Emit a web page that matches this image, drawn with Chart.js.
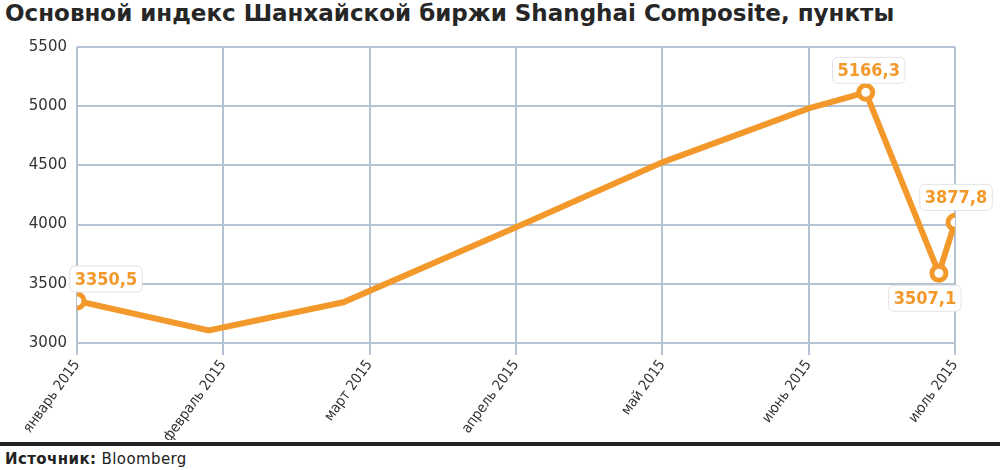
<!DOCTYPE html>
<html>
<head>
<meta charset="utf-8">
<script src="https://cdn.jsdelivr.net/npm/chart.js@4/dist/chart.umd.min.js"></script>
<style>
    body { margin: 0; width: 1000px; height: 470px; background: #fff; position: relative; overflow: hidden; }
    #title { position: absolute; left: 5px; top: 0px; font-family: "DejaVu Sans"; font-weight: bold; font-size: 23px; color: #262626; white-space: nowrap; }
    #chartBox { position: absolute; left: 0; top: 0; width: 1000px; height: 440px; }
    #rule { position: absolute; left: 0; top: 442px; width: 1000px; height: 4px; background: #222; }
    #source { position: absolute; left: 5px; top: 450px; font-family: "DejaVu Sans"; font-size: 15px; letter-spacing: 0.4px; color: #222; }
</style>
</head>
<body>
<div id="title">Основной индекс Шанхайской биржи Shanghai Composite, пункты</div>
<div id="chartBox"><canvas id="chart"></canvas></div>
<div id="rule"></div>
<div id="source"><b>Источник:</b> Bloomberg</div>
<script>
// chart data (x = months since January 2015)
const monthLabels = ['январь 2015', 'февраль 2015', 'март 2015', 'апрель 2015', 'май 2015', 'июнь 2015', 'июль 2015'];
const xMonths = [0, 0.9, 1.82, 3, 4, 5, 5.39, 5.89, 6];
const indexValues = [3355, 3107, 3344, 3977, 4526, 4982, 5117, 3589, 4019];
const calloutTexts = ['3350,5', '', '', '', '', '', '5166,3', '3507,1', '3877,8'];
const yTicks = [3000, 3500, 4000, 4500, 5000, 5500];

const orange = '#f3992b';
const gridColor = '#b3c3d3';

// where each callout box sits relative to its point
const calloutOffsets = { 0: [29, -22], 6: [3, -22], 7: [-14, 25], 8: [1, -25] };

const calloutPlugin = {
    id: 'callouts',
    afterDatasetsDraw(chart) {
        const ctx = chart.ctx;
        const meta = chart.getDatasetMeta(0);
        ctx.save();
        ctx.font = 'bold 18px "DejaVu Sans Condensed"';
        ctx.textAlign = 'center';
        ctx.textBaseline = 'middle';
        calloutTexts.forEach((txt, i) => {
            if (!txt) return;
            const pt = meta.data[i];
            const off = calloutOffsets[i];
            const cx = pt.x + off[0], cy = pt.y + off[1];
            const w = ctx.measureText(txt).width + 10;
            const h = 26;
            ctx.beginPath();
            ctx.roundRect(cx - w / 2, cy - h / 2, w, h, 5);
            ctx.fillStyle = 'rgba(255,255,255,0.95)';
            ctx.fill();
            ctx.strokeStyle = '#e2e2e2';
            ctx.lineWidth = 1;
            ctx.stroke();
            ctx.fillStyle = orange;
            ctx.fillText(txt, cx, cy + 1);
        });
        ctx.restore();
    }
};

const ctx = document.getElementById('chart').getContext('2d');
new Chart(ctx, {
    type: 'line',
    data: {
        datasets: [{
            data: xMonths.map((x, i) => ({ x: x, y: indexValues[i] })),
            borderColor: orange,
            borderWidth: 6,
            tension: 0,
            fill: false,
            pointRadius: calloutTexts.map(t => t ? 7 : 0),
            pointBorderWidth: 5,
            pointBackgroundColor: '#fff',
            pointBorderColor: orange
        }]
    },
    options: {
        responsive: true,
        maintainAspectRatio: false,
        animation: false,
        layout: { padding: { left: 0, right: 45, top: 47, bottom: 0 } },
        plugins: {
            legend: { display: false },
            tooltip: { enabled: false }
        },
        scales: {
            x: {
                type: 'linear',
                min: 0,
                max: 6,
                afterBuildTicks: axis => { axis.ticks = monthLabels.map((l, i) => ({ value: i })); },
                afterFit: axis => { axis.height = 97; },
                grid: { color: gridColor, lineWidth: 2, tickLength: 12 },
                border: { display: false },
                ticks: {
                    callback: v => monthLabels[v],
                    minRotation: 54,
                    maxRotation: 54,
                    padding: 2,
                    color: '#333',
                    font: { family: 'DejaVu Sans Condensed', size: 14.5 }
                }
            },
            y: {
                min: 3000,
                max: 5500,
                afterBuildTicks: axis => { axis.ticks = yTicks.map(v => ({ value: v })); },
                afterFit: axis => { axis.width = 77; },
                grid: { color: gridColor, lineWidth: 2, drawTicks: false },
                border: { display: false },
                ticks: {
                    callback: v => String(v),
                    padding: 10,
                    color: '#333',
                    font: { family: 'DejaVu Sans', size: 15 }
                }
            }
        }
    },
    plugins: [calloutPlugin]
});
</script>
</body>
</html>
